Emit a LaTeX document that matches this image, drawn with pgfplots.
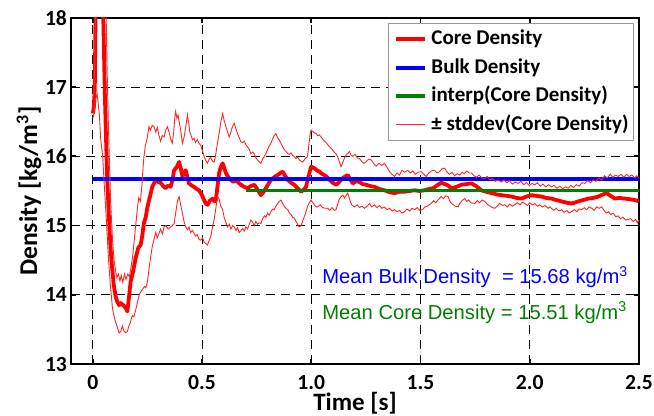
\documentclass[border=0pt]{standalone}
\usepackage{fontspec}
\setmainfont{Carlito}
\newfontfamily\arialf{Liberation Sans}
\usepackage{pgfplots}
\pgfplotsset{compat=1.18}
\definecolor{mgreen}{RGB}{0,128,0}
\begin{document}
\begin{tikzpicture}
\begin{axis}[
  at={(0,0)}, anchor=south west,
  width=284pt, height=173pt, scale only axis,
  xmin=-0.1, xmax=2.5, ymin=13, ymax=18,
  xtick={0,0.5,1,1.5,2,2.5}, xticklabels={0,0.5,1.0,1.5,2.0,2.5},
  ytick={13,14,15,16,17,18}, yticklabels={13,14,15,16,17,18},
  tick align=inside, major tick length=2.5pt,
  every tick/.style={black, line width=0.9pt},
  axis line style={line width=1pt},
  grid=major, grid style={black, line width=0.45pt, dash pattern=on 4.5pt off 3pt},
  ticklabel style={font=\fontsize{10.8}{12}\selectfont\bfseries},
  xticklabel style={yshift=-2pt},
  yticklabel style={xshift=1.5pt},
  xlabel={Time [s]}, ylabel={Density [kg/m\textsuperscript{3}]},
  every axis x label/.style={at={(axis description cs:0.5,-0.113)}, anchor=center, font=\fontsize{12.5}{14}\selectfont\bfseries},
  every axis y label/.style={at={(axis description cs:-0.074,0.5)}, rotate=90, anchor=center, font=\fontsize{12.8}{14}\selectfont\bfseries},
  legend style={at={(rel axis cs:1,1)}, anchor=north east, xshift=-2.5pt, yshift=-2.5pt,
    draw=gray!80, line width=0.5pt, fill=white,
    font=\fontsize{10.5}{12}\selectfont\bfseries,
    inner xsep=0pt, inner ysep=0.6pt, row sep=0pt, column sep=0pt,
    nodes={text height=8pt, text depth=2.5pt, inner ysep=1.9pt, inner xsep=2.4pt}},
  legend cell align=left,
  legend image code/.code={\path (0pt,0pt); \draw[#1] (2.5pt,0pt) -- (17pt,0pt);},
]
% Core density
\addplot[red, line width=1.9pt, line join=round] coordinates {
(0,16.62)(0.005,16.72)(0.009,17.0)(0.012,17.97)(0.02,19.5)(0.035,20)(0.045,19)(0.048,17.97)(0.055,16.9)(0.06,16.3)(0.066,15.66)(0.074,15.1)(0.081,14.68)(0.088,14.4)(0.096,14.14)(0.104,13.98)(0.112,13.9)(0.12,13.85)(0.128,13.88)(0.135,13.86)(0.143,13.84)(0.15,13.81)(0.158,13.76)(0.165,13.95)(0.173,14.19)(0.185,14.35)(0.196,14.53)(0.208,14.68)(0.219,14.72)(0.226,14.85)(0.234,15.04)(0.242,15.12)(0.25,15.27)(0.26,15.4)(0.272,15.56)(0.288,15.66)(0.3,15.63)(0.311,15.62)(0.322,15.57)(0.333,15.54)(0.345,15.58)(0.356,15.56)(0.364,15.65)(0.372,15.80)(0.385,15.85)(0.395,15.92)(0.403,15.82)(0.41,15.71)(0.418,15.76)(0.425,15.80)(0.433,15.70)(0.44,15.61)(0.452,15.58)(0.463,15.56)(0.475,15.53)(0.486,15.51)(0.498,15.45)(0.509,15.37)(0.517,15.32)(0.525,15.30)(0.536,15.36)(0.548,15.39)(0.556,15.35)(0.563,15.37)(0.57,15.55)(0.578,15.76)(0.586,15.85)(0.594,15.90)(0.601,15.84)(0.609,15.76)(0.62,15.70)(0.632,15.66)(0.644,15.63)(0.655,15.66)(0.667,15.62)(0.678,15.59)(0.693,15.56)(0.708,15.54)(0.723,15.57)(0.739,15.59)(0.754,15.52)(0.769,15.44)(0.78,15.48)(0.792,15.54)(0.803,15.60)(0.815,15.66)(0.83,15.70)(0.846,15.73)(0.858,15.76)(0.869,15.78)(0.88,15.72)(0.892,15.66)(0.907,15.62)(0.922,15.59)(0.937,15.54)(0.953,15.49)(0.965,15.52)(0.976,15.56)(0.988,15.72)(0.999,15.85)(1.014,15.83)(1.025,15.80)(1.037,15.78)(1.048,15.75)(1.06,15.73)(1.072,15.70)(1.083,15.66)(1.098,15.62)(1.113,15.59)(1.125,15.62)(1.136,15.66)(1.15,15.70)(1.167,15.73)(1.178,15.67)(1.19,15.61)(1.205,15.64)(1.22,15.63)(1.235,15.60)(1.251,15.59)(1.27,15.57)(1.289,15.56)(1.31,15.53)(1.335,15.51)(1.36,15.48)(1.381,15.47)(1.405,15.49)(1.427,15.49)(1.45,15.50)(1.473,15.51)(1.495,15.50)(1.518,15.51)(1.54,15.53)(1.557,15.54)(1.575,15.58)(1.595,15.62)(1.61,15.60)(1.626,15.58)(1.641,15.54)(1.665,15.56)(1.687,15.59)(1.71,15.60)(1.733,15.61)(1.755,15.57)(1.778,15.51)(1.8,15.49)(1.824,15.47)(1.85,15.45)(1.870,15.44)(1.895,15.43)(1.916,15.42)(1.94,15.40)(1.962,15.39)(1.985,15.42)(2.008,15.44)(2.03,15.43)(2.053,15.42)(2.075,15.40)(2.1,15.39)(2.12,15.37)(2.146,15.35)(2.17,15.33)(2.19,15.32)(2.205,15.33)(2.222,15.35)(2.245,15.37)(2.268,15.39)(2.29,15.40)(2.314,15.42)(2.335,15.45)(2.352,15.47)(2.37,15.43)(2.390,15.39)(2.41,15.40)(2.436,15.39)(2.46,15.38)(2.48,15.37)(2.5,15.35)
};
% Bulk density
\addplot[blue, line width=2pt] coordinates {(0,15.68)(2.5,15.68)};
% interp
\addplot[mgreen, line width=1.8pt] coordinates {(0.7,15.51)(2.5,15.51)};
% upper std
\addplot[red!85, line width=0.45pt] coordinates {
(0,16.85)(0.005,16.95)(0.009,17.4)(0.013,18.3)(0.03,19.5)(0.055,19.2)(0.06,18.2)(0.065,17.3)(0.07,16.6)(0.076,15.9)(0.082,15.3)(0.09,14.8)(0.097,14.5)(0.104,14.35)(0.11,14.25)(0.117,14.3)(0.124,14.2)(0.13,14.28)(0.137,14.18)(0.145,14.3)(0.152,14.22)(0.16,14.3)(0.167,14.26)(0.175,14.4)(0.182,14.55)(0.19,14.8)(0.196,15.0)(0.204,15.25)(0.21,15.4)(0.218,15.35)(0.225,15.6)(0.23,15.85)(0.234,16.0)(0.24,16.15)(0.248,16.25)(0.257,16.43)(0.264,16.38)(0.272,16.45)(0.28,16.43)(0.288,16.35)(0.295,16.42)(0.303,16.3)(0.31,16.22)(0.318,16.3)(0.326,16.28)(0.334,16.38)(0.341,16.43)(0.349,16.35)(0.356,16.25)(0.364,16.19)(0.37,16.35)(0.375,16.55)(0.379,16.65)(0.385,16.55)(0.39,16.6)(0.395,16.5)(0.402,16.38)(0.41,16.19)(0.418,16.28)(0.425,16.42)(0.433,16.6)(0.438,16.5)(0.444,16.35)(0.45,16.3)(0.456,16.24)(0.463,16.26)(0.47,16.2)(0.478,16.24)(0.486,16.19)(0.494,16.16)(0.502,16.08)(0.509,16.0)(0.517,15.94)(0.525,15.9)(0.533,15.97)(0.54,15.98)(0.548,15.93)(0.555,15.92)(0.56,15.98)(0.566,16.1)(0.572,16.22)(0.578,16.33)(0.586,16.5)(0.594,16.62)(0.601,16.52)(0.609,16.43)(0.617,16.35)(0.624,16.28)(0.63,16.33)(0.638,16.42)(0.647,16.48)(0.655,16.4)(0.662,16.33)(0.67,16.27)(0.678,16.21)(0.686,16.2)(0.693,16.22)(0.7,16.17)(0.708,16.14)(0.716,16.1)(0.723,16.04)(0.731,16.06)(0.739,16.04)(0.746,15.98)(0.754,15.95)(0.761,15.92)(0.769,15.9)(0.777,15.96)(0.785,16.0)(0.792,16.04)(0.8,16.1)(0.807,16.15)(0.815,16.19)(0.823,16.25)(0.83,16.3)(0.838,16.33)(0.846,16.27)(0.853,16.24)(0.861,16.19)(0.869,16.14)(0.876,16.1)(0.884,16.07)(0.892,16.04)(0.9,16.03)(0.907,16.05)(0.915,16.01)(0.922,16.0)(0.93,15.97)(0.937,15.99)(0.945,15.95)(0.953,15.93)(0.96,15.92)(0.968,15.95)(0.976,15.98)(0.983,16.0)(0.99,16.2)(0.995,16.32)(0.999,16.38)(1.007,16.36)(1.014,16.34)(1.022,16.33)(1.03,16.3)(1.037,16.31)(1.045,16.28)(1.052,16.25)(1.06,16.22)(1.068,16.2)(1.075,16.17)(1.083,16.14)(1.09,16.12)(1.098,16.09)(1.105,16.06)(1.113,16.04)(1.12,16.0)(1.128,15.93)(1.136,15.85)(1.145,15.92)(1.152,15.98)(1.16,16.03)(1.167,16.04)(1.174,16.07)(1.182,16.02)(1.19,16.0)(1.2,16.03)(1.21,15.98)(1.22,15.97)(1.23,15.93)(1.24,15.9)(1.25,15.92)(1.262,15.96)(1.274,15.95)(1.285,15.9)(1.297,15.86)(1.31,15.9)(1.322,15.87)(1.335,15.9)(1.347,15.84)(1.358,15.78)(1.37,15.74)(1.381,15.71)(1.392,15.76)(1.404,15.73)(1.415,15.8)(1.427,15.77)(1.442,15.8)(1.453,15.76)(1.465,15.79)(1.476,15.74)(1.488,15.77)(1.503,15.78)(1.515,15.74)(1.526,15.71)(1.538,15.76)(1.55,15.79)(1.564,15.80)(1.575,15.76)(1.587,15.78)(1.598,15.82)(1.61,15.83)(1.62,15.78)(1.632,15.74)(1.645,15.77)(1.656,15.72)(1.668,15.75)(1.68,15.73)(1.69,15.77)(1.7,15.75)(1.712,15.79)(1.722,15.76)(1.733,15.76)(1.745,15.72)(1.756,15.7)(1.768,15.73)(1.78,15.69)(1.794,15.68)(1.805,15.71)(1.818,15.66)(1.83,15.68)(1.842,15.64)(1.855,15.66)(1.87,15.63)(1.882,15.66)(1.895,15.62)(1.908,15.65)(1.92,15.6)(1.933,15.63)(1.947,15.61)(1.96,15.64)(1.973,15.59)(1.985,15.62)(1.998,15.58)(2.01,15.61)(2.023,15.59)(2.035,15.62)(2.048,15.57)(2.06,15.6)(2.073,15.56)(2.086,15.59)(2.099,15.56)(2.112,15.58)(2.125,15.54)(2.138,15.57)(2.15,15.53)(2.163,15.56)(2.176,15.54)(2.188,15.58)(2.2,15.55)(2.213,15.59)(2.226,15.57)(2.24,15.62)(2.252,15.61)(2.265,15.65)(2.278,15.62)(2.29,15.66)(2.303,15.64)(2.316,15.69)(2.329,15.66)(2.342,15.72)(2.355,15.69)(2.368,15.74)(2.38,15.7)(2.393,15.73)(2.405,15.71)(2.418,15.74)(2.43,15.7)(2.443,15.74)(2.455,15.71)(2.468,15.73)(2.48,15.69)(2.49,15.72)(2.5,15.69)
};
% lower std
\addplot[red!85, line width=0.45pt, forget plot] coordinates {
(0,16.55)(0.005,16.62)(0.01,16.8)(0.02,16.9)(0.03,16.6)(0.036,16.25)(0.045,16.0)(0.052,15.6)(0.058,15.3)(0.065,14.9)(0.072,14.5)(0.08,14.15)(0.09,13.8)(0.1,13.65)(0.11,13.55)(0.12,13.45)(0.128,13.47)(0.135,13.55)(0.142,13.48)(0.15,13.45)(0.158,13.47)(0.165,13.55)(0.172,13.6)(0.18,13.7)(0.188,13.68)(0.196,13.78)(0.205,13.9)(0.212,14.0)(0.219,14.04)(0.228,14.08)(0.236,14.12)(0.243,14.1)(0.25,14.19)(0.258,14.4)(0.265,14.55)(0.272,14.7)(0.28,14.8)(0.288,14.9)(0.295,14.82)(0.303,14.89)(0.31,14.95)(0.318,14.88)(0.326,14.98)(0.335,15.0)(0.345,14.95)(0.356,14.98)(0.364,15.0)(0.372,15.03)(0.38,15.2)(0.387,15.35)(0.395,15.42)(0.402,15.3)(0.41,15.18)(0.418,15.05)(0.425,14.98)(0.433,14.94)(0.44,14.98)(0.448,14.9)(0.456,14.93)(0.463,14.89)(0.47,14.85)(0.478,14.87)(0.486,14.8)(0.494,14.79)(0.502,14.82)(0.51,14.76)(0.518,14.74)(0.525,14.72)(0.532,14.78)(0.54,14.85)(0.548,14.98)(0.556,15.1)(0.563,15.25)(0.571,15.42)(0.578,15.38)(0.586,15.28)(0.594,15.23)(0.601,15.12)(0.609,15.05)(0.617,14.98)(0.625,15.02)(0.632,14.95)(0.64,15.0)(0.647,14.98)(0.655,14.93)(0.662,14.97)(0.67,14.9)(0.678,14.93)(0.686,14.96)(0.693,14.92)(0.7,14.98)(0.708,14.95)(0.716,15.02)(0.723,15.08)(0.731,15.05)(0.739,15.0)(0.746,15.06)(0.754,15.02)(0.761,15.04)(0.769,15.03)(0.777,15.1)(0.785,15.14)(0.792,15.12)(0.8,15.18)(0.807,15.15)(0.815,15.2)(0.823,15.24)(0.83,15.23)(0.838,15.28)(0.846,15.32)(0.853,15.35)(0.861,15.37)(0.869,15.32)(0.876,15.28)(0.884,15.25)(0.892,15.23)(0.9,15.18)(0.907,15.16)(0.915,15.12)(0.922,15.11)(0.93,15.06)(0.937,15.02)(0.945,14.98)(0.953,15.0)(0.96,15.06)(0.968,15.13)(0.976,15.2)(0.983,15.28)(0.991,15.33)(0.999,15.37)(1.007,15.33)(1.014,15.3)(1.022,15.27)(1.029,15.27)(1.04,15.3)(1.052,15.26)(1.064,15.25)(1.075,15.25)(1.085,15.22)(1.095,15.26)(1.105,15.22)(1.113,15.23)(1.12,15.3)(1.128,15.38)(1.136,15.42)(1.145,15.44)(1.152,15.4)(1.16,15.44)(1.167,15.47)(1.175,15.38)(1.185,15.3)(1.197,15.27)(1.21,15.3)(1.22,15.26)(1.232,15.28)(1.243,15.25)(1.255,15.28)(1.266,15.32)(1.277,15.27)(1.289,15.3)(1.3,15.26)(1.312,15.29)(1.323,15.25)(1.335,15.27)(1.347,15.23)(1.358,15.25)(1.37,15.21)(1.381,15.23)(1.392,15.2)(1.404,15.22)(1.415,15.18)(1.427,15.2)(1.438,15.24)(1.45,15.21)(1.461,15.25)(1.473,15.23)(1.485,15.26)(1.496,15.22)(1.51,15.23)(1.52,15.27)(1.53,15.28)(1.549,15.32)(1.56,15.36)(1.57,15.33)(1.58,15.37)(1.595,15.42)(1.605,15.39)(1.615,15.43)(1.626,15.42)(1.633,15.36)(1.641,15.32)(1.65,15.3)(1.66,15.28)(1.672,15.27)(1.68,15.32)(1.69,15.36)(1.702,15.39)(1.712,15.35)(1.72,15.37)(1.73,15.33)(1.748,15.32)(1.76,15.36)(1.77,15.33)(1.782,15.37)(1.794,15.35)(1.805,15.31)(1.818,15.28)(1.83,15.26)(1.84,15.25)(1.85,15.28)(1.862,15.32)(1.875,15.29)(1.885,15.3)(1.897,15.27)(1.908,15.31)(1.92,15.28)(1.931,15.3)(1.943,15.33)(1.955,15.3)(1.966,15.34)(1.977,15.32)(1.99,15.29)(2.0,15.33)(2.012,15.3)(2.023,15.32)(2.035,15.28)(2.046,15.3)(2.058,15.27)(2.07,15.29)(2.084,15.25)(2.092,15.27)(2.099,15.25)(2.11,15.22)(2.122,15.25)(2.134,15.21)(2.146,15.23)(2.157,15.19)(2.17,15.22)(2.18,15.18)(2.19,15.2)(2.205,15.23)(2.215,15.2)(2.226,15.24)(2.237,15.23)(2.25,15.26)(2.26,15.23)(2.272,15.27)(2.283,15.25)(2.295,15.22)(2.306,15.27)(2.318,15.25)(2.329,15.27)(2.34,15.22)(2.35,15.18)(2.36,15.2)(2.37,15.16)(2.382,15.18)(2.393,15.13)(2.405,15.14)(2.415,15.1)(2.427,15.12)(2.44,15.08)(2.451,15.09)(2.462,15.1)(2.473,15.06)(2.485,15.09)(2.492,15.04)(2.5,15.08)
};
\legend{Core Density, Bulk Density, interp(Core Density), ± stddev(Core Density)}
\node[anchor=base west, text=blue, font=\arialf\fontsize{10.1}{12}\selectfont, inner sep=0pt] at (axis cs:1.049,14.16) {Mean Bulk Density\ \ = 15.68 kg/m\textsuperscript{3}};
\node[anchor=base west, text=mgreen, font=\arialf\fontsize{10.1}{12}\selectfont, inner sep=0pt] at (axis cs:1.049,13.65) {Mean Core Density = 15.51 kg/m\textsuperscript{3}};
\end{axis}
\pgfresetboundingbox
\path (-35.5pt,-26pt) rectangle (291.5pt,182pt);
\end{tikzpicture}
\end{document}
